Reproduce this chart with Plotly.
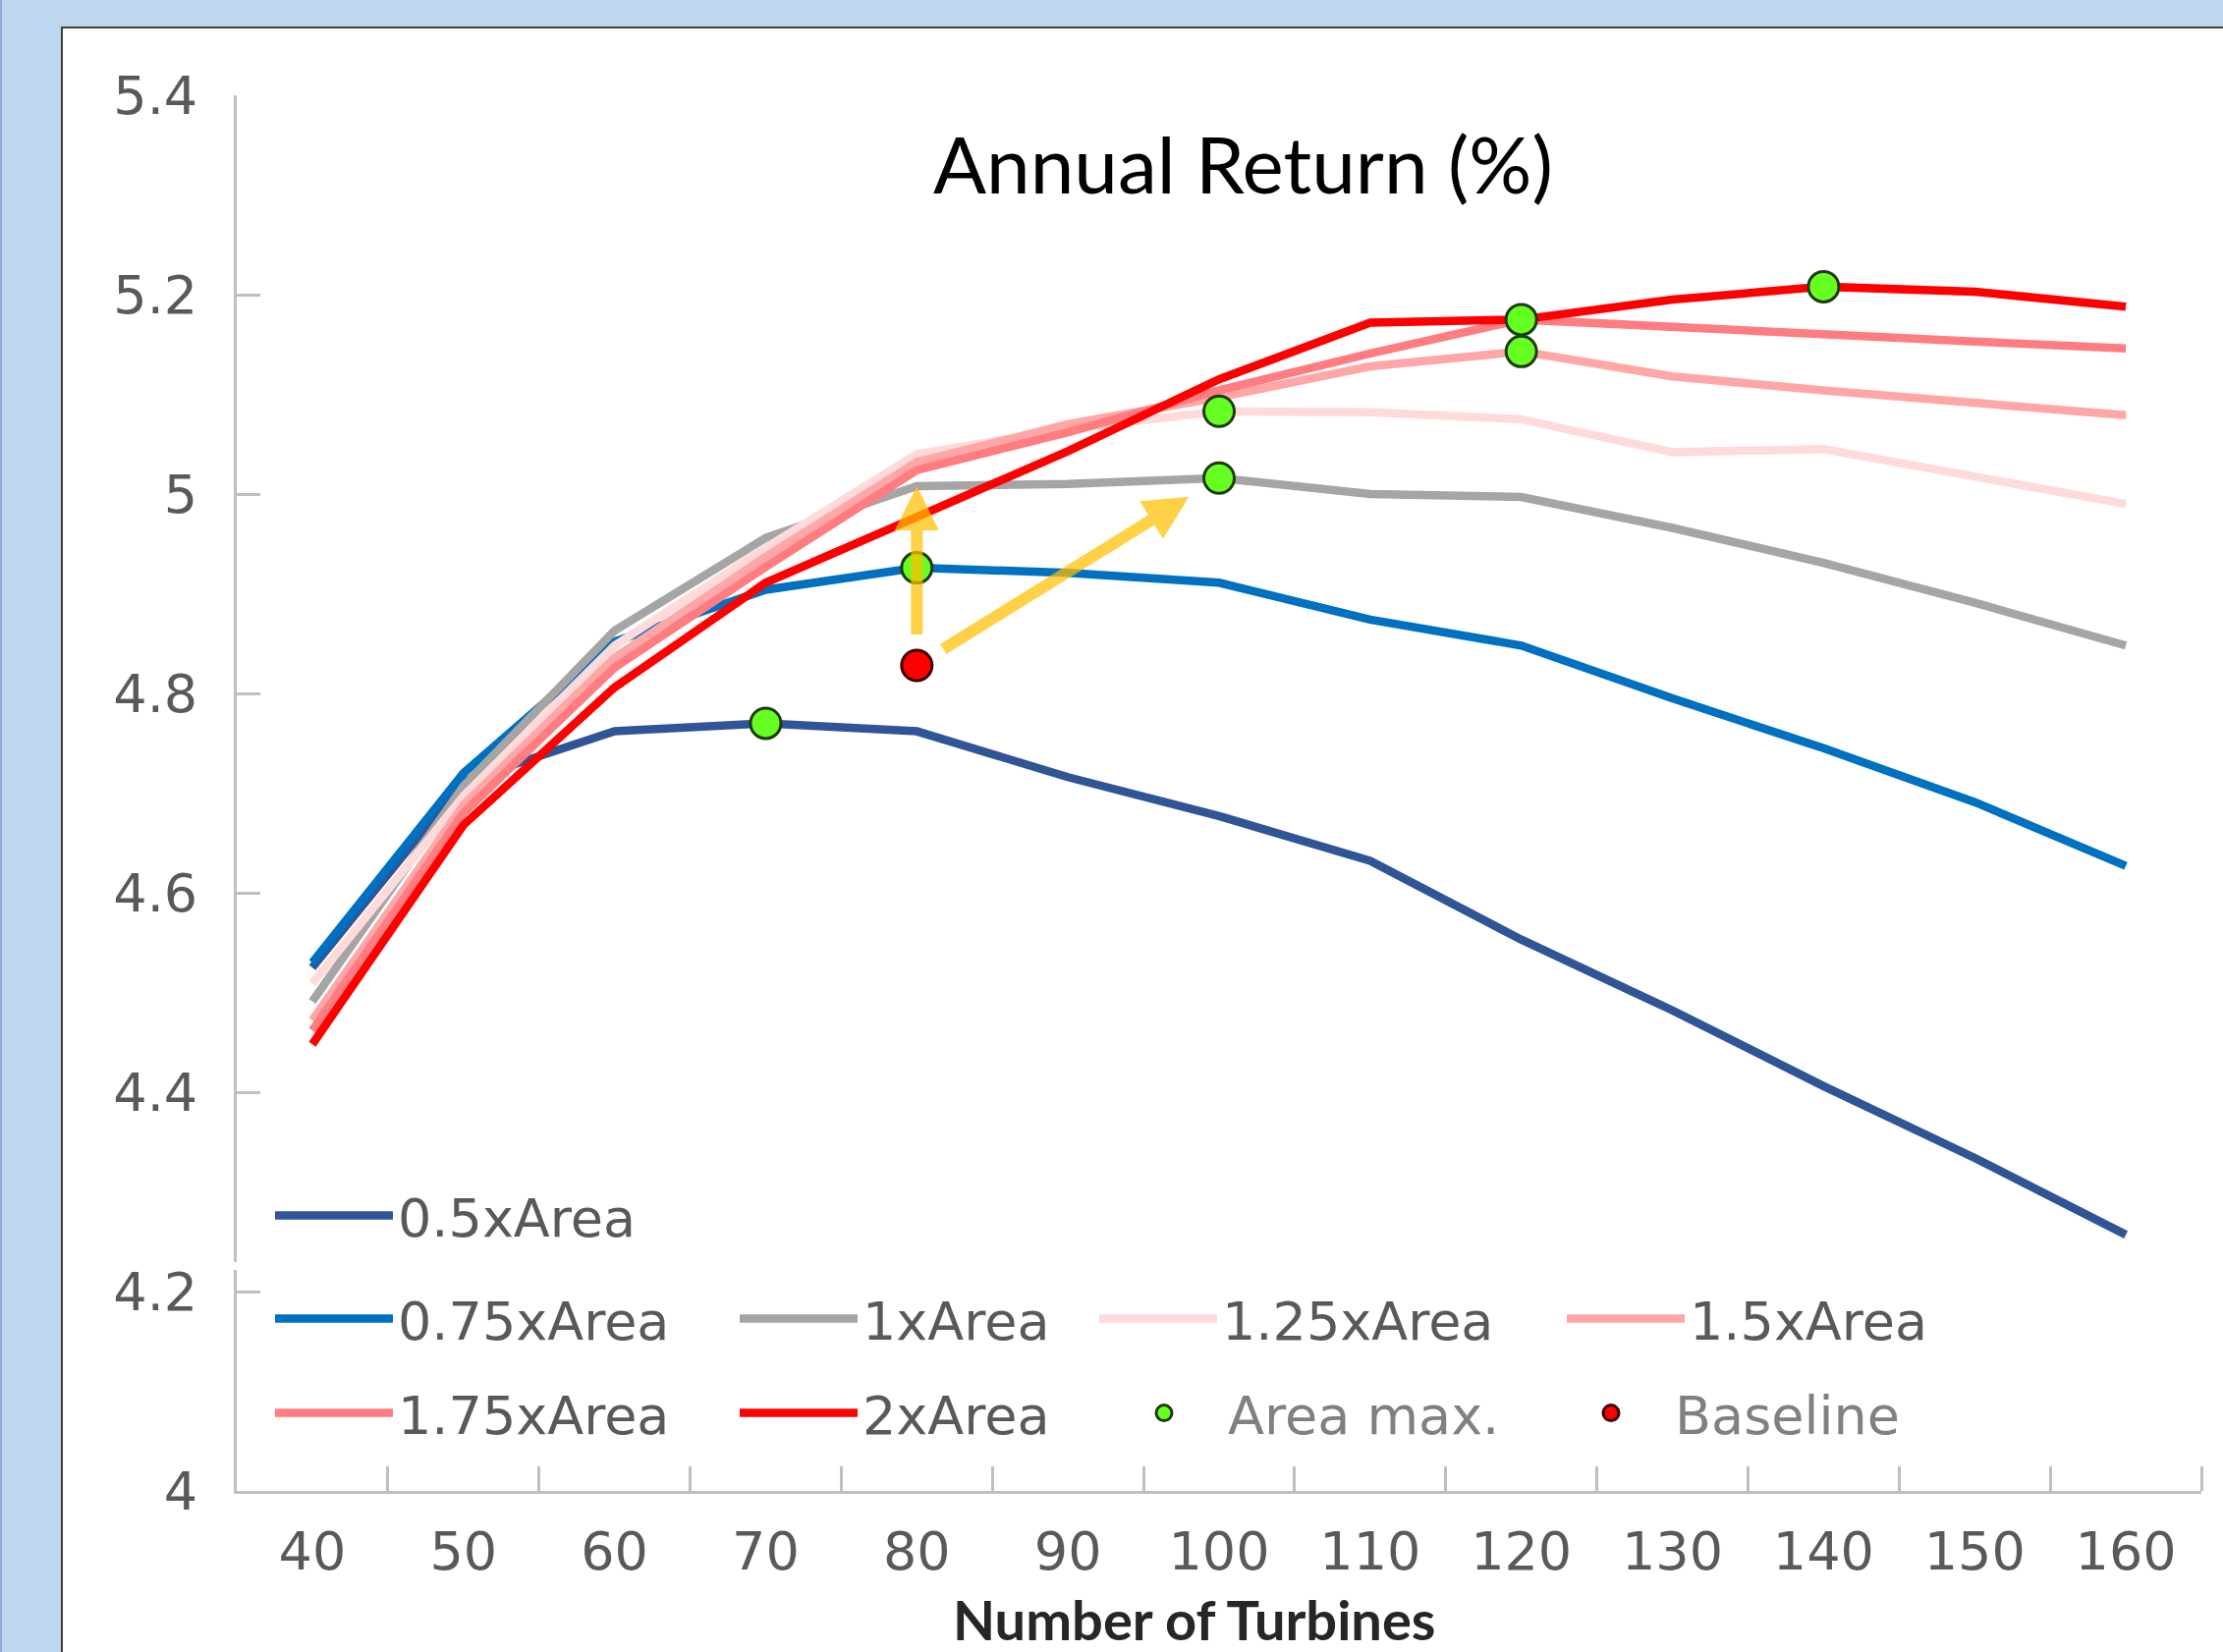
import plotly.graph_objects as go

# ---- data -------------------------------------------------------------
TURBINES = [40, 50, 60, 70, 80, 90, 100, 110, 120, 130, 140, 150, 160]

AREA_05 = [4.525, 4.712, 4.762, 4.770, 4.762, 4.716, 4.677, 4.632, 4.553, 4.482, 4.406, 4.334, 4.257]
AREA_075 = [4.530, 4.720, 4.852, 4.904, 4.926, 4.921, 4.911, 4.874, 4.848, 4.795, 4.745, 4.691, 4.627]
AREA_1 = [4.491, 4.707, 4.863, 4.956, 5.008, 5.010, 5.016, 5.000, 4.997, 4.966, 4.931, 4.891, 4.848]
AREA_125 = [4.509, 4.697, 4.848, 4.946, 5.040, 5.065, 5.083, 5.082, 5.075, 5.042, 5.045, 5.018, 4.990]
AREA_15 = [4.472, 4.688, 4.836, 4.937, 5.032, 5.070, 5.097, 5.128, 5.143, 5.118, 5.104, 5.092, 5.079]
AREA_175 = [4.462, 4.680, 4.826, 4.927, 5.024, 5.062, 5.104, 5.141, 5.175, 5.167, 5.160, 5.153, 5.146]
AREA_2 = [4.448, 4.668, 4.806, 4.911, 4.977, 5.043, 5.115, 5.172, 5.175, 5.195, 5.208, 5.203, 5.188]

# best return for each area scale
AREA_MAX_X = [70, 80, 100, 100, 120, 120, 140]
AREA_MAX_Y = [4.770, 4.926, 5.016, 5.083, 5.143, 5.175, 5.208]

BASELINE_X = [80]
BASELINE_Y = [4.828]

# improvement arrows: baseline -> 1xArea at same count, baseline -> 1xArea optimum
ARROW_FROM = [(80, 4.828), (80, 4.828)]
ARROW_TO = [(80, 5.008), (100, 5.016)]

# ---- styling ----------------------------------------------------------
W, H = 2263, 1682
ML, MR, MT, MB = 241, 22, 97, 164
PW, PH = W - ML - MR, H - MT - MB

def px_x(p):
    return (p - ML) / PW

def px_y(p):
    return (H - MB - p) / PH

AXIS = "#BFBFBF"
TXT = "#595959"
TICKFONT = dict(family="DejaVu Sans", size=54, color=TXT)
LEGFONT = dict(family="DejaVu Sans", size=54, color=TXT)

series = [
    ("0.5xArea", AREA_05, "#2F5597"),
    ("0.75xArea", AREA_075, "#0070C0"),
    ("1xArea", AREA_1, "#A5A5A5"),
    ("1.25xArea", AREA_125, "#FFDADA"),
    ("1.5xArea", AREA_15, "#FFA6A6"),
    ("1.75xArea", AREA_175, "#FF7C80"),
    ("2xArea", AREA_2, "#FF0000"),
]

# legend slot of each entry: (left pixel of legend box, row centre pixel)
legend_slots = [
    (275, 1238),
    (275, 1343), (748, 1343), (1114, 1343), (1590, 1343),
    (275, 1439), (748, 1439), (1120, 1439), (1575, 1439),
]

fig = go.Figure()

for i, (name, ys, color) in enumerate(series):
    fig.add_trace(go.Scatter(
        x=TURBINES, y=ys, name=name, mode="lines",
        line=dict(color=color, width=8.5),
        legend="legend" if i == 0 else f"legend{i + 1}",
    ))

fig.add_trace(go.Scatter(
    x=AREA_MAX_X, y=AREA_MAX_Y, name="<span style='color:#808080'>Area max.</span>",
    mode="markers",
    marker=dict(size=31, color="#66FF22", line=dict(color="#1E3A0F", width=3)),
    legend="legend8",
))
fig.add_trace(go.Scatter(
    x=BASELINE_X, y=BASELINE_Y, name="<span style='color:#808080'>Baseline</span>",
    mode="markers",
    marker=dict(size=31, color="#FF0000", line=dict(color="#3A0000", width=3)),
    legend="legend9",
))

legends = {}
for i, (lx, ly) in enumerate(legend_slots):
    key = "legend" if i == 0 else f"legend{i + 1}"
    legends[key] = dict(
        x=px_x(lx), y=px_y(ly), xanchor="left", yanchor="middle",
        orientation="h", font=LEGFONT, bgcolor="rgba(0,0,0,0)",
        borderwidth=0, itemwidth=120,
    )

annotations = [
    dict(text="Annual Return (%)", x=px_x(1265), y=px_y(166), xref="paper", yref="paper",
         xanchor="center", yanchor="middle", showarrow=False,
         font=dict(family="Lato", size=80, color="#000000")),
    dict(text="<b>Number of Turbines</b>", x=px_x(1215), y=px_y(1648), xref="paper", yref="paper",
         xanchor="center", yanchor="middle", showarrow=False,
         font=dict(family="Lato", size=56, color="#262626")),
]
for (x0, y0), (x1, y1) in zip(ARROW_FROM, ARROW_TO):
    annotations.append(dict(
        x=x1, y=y1, ax=x0, ay=y0, xref="x", yref="y", axref="x", ayref="y",
        text="", showarrow=True, arrowhead=2, arrowsize=0.75, arrowwidth=12,
        arrowcolor="#FFC000", opacity=0.72, startstandoff=30,
        standoff=0 if x1 == x0 else 36,
    ))

shapes = [
    # white chart panel with dark top/left edge
    dict(type="rect", xref="paper", yref="paper", layer="below",
         x0=px_x(63), x1=px_x(2300), y0=px_y(1720), y1=px_y(28),
         fillcolor="#FFFFFF", line=dict(color="#3F3F3F", width=2)),
    dict(type="line", xref="paper", yref="paper", layer="below",
         x0=px_x(1), x1=px_x(1), y0=px_y(1720), y1=px_y(-10),
         line=dict(color="#8FAADC", width=2)),
    # small break in the value axis line beside the legend
    dict(type="rect", xref="paper", yref="paper", layer="above",
         x0=px_x(236), x1=px_x(246), y0=px_y(1293), y1=px_y(1285),
         fillcolor="#FFFFFF", line=dict(width=0)),
]

fig.update_layout(
    width=W, height=H,
    margin=dict(l=ML, r=MR, t=MT, b=MB, pad=0),
    paper_bgcolor="#BDD7EE", plot_bgcolor="rgba(0,0,0,0)",
    showlegend=True,
    annotations=annotations, shapes=shapes,
    **legends,
)
fig.update_xaxes(
    range=[35, 165], tickvals=TURBINES, ticks="", showline=True,
    linecolor=AXIS, linewidth=3, showgrid=False, zeroline=False,
    tickfont=TICKFONT, ticklabelstandoff=12,
    minor=dict(tickvals=[t + 5 for t in TURBINES], ticks="inside", ticklen=25,
               tickcolor=AXIS, tickwidth=3, showgrid=False),
)
fig.update_yaxes(
    range=[4, 5.4], tick0=4, dtick=0.2, ticks="inside", ticklen=24,
    tickcolor=AXIS, tickwidth=3, showline=True, linecolor=AXIS, linewidth=3,
    showgrid=False, zeroline=False, tickfont=TICKFONT, ticklabelstandoff=26,
)

fig.write_html("out.html")
